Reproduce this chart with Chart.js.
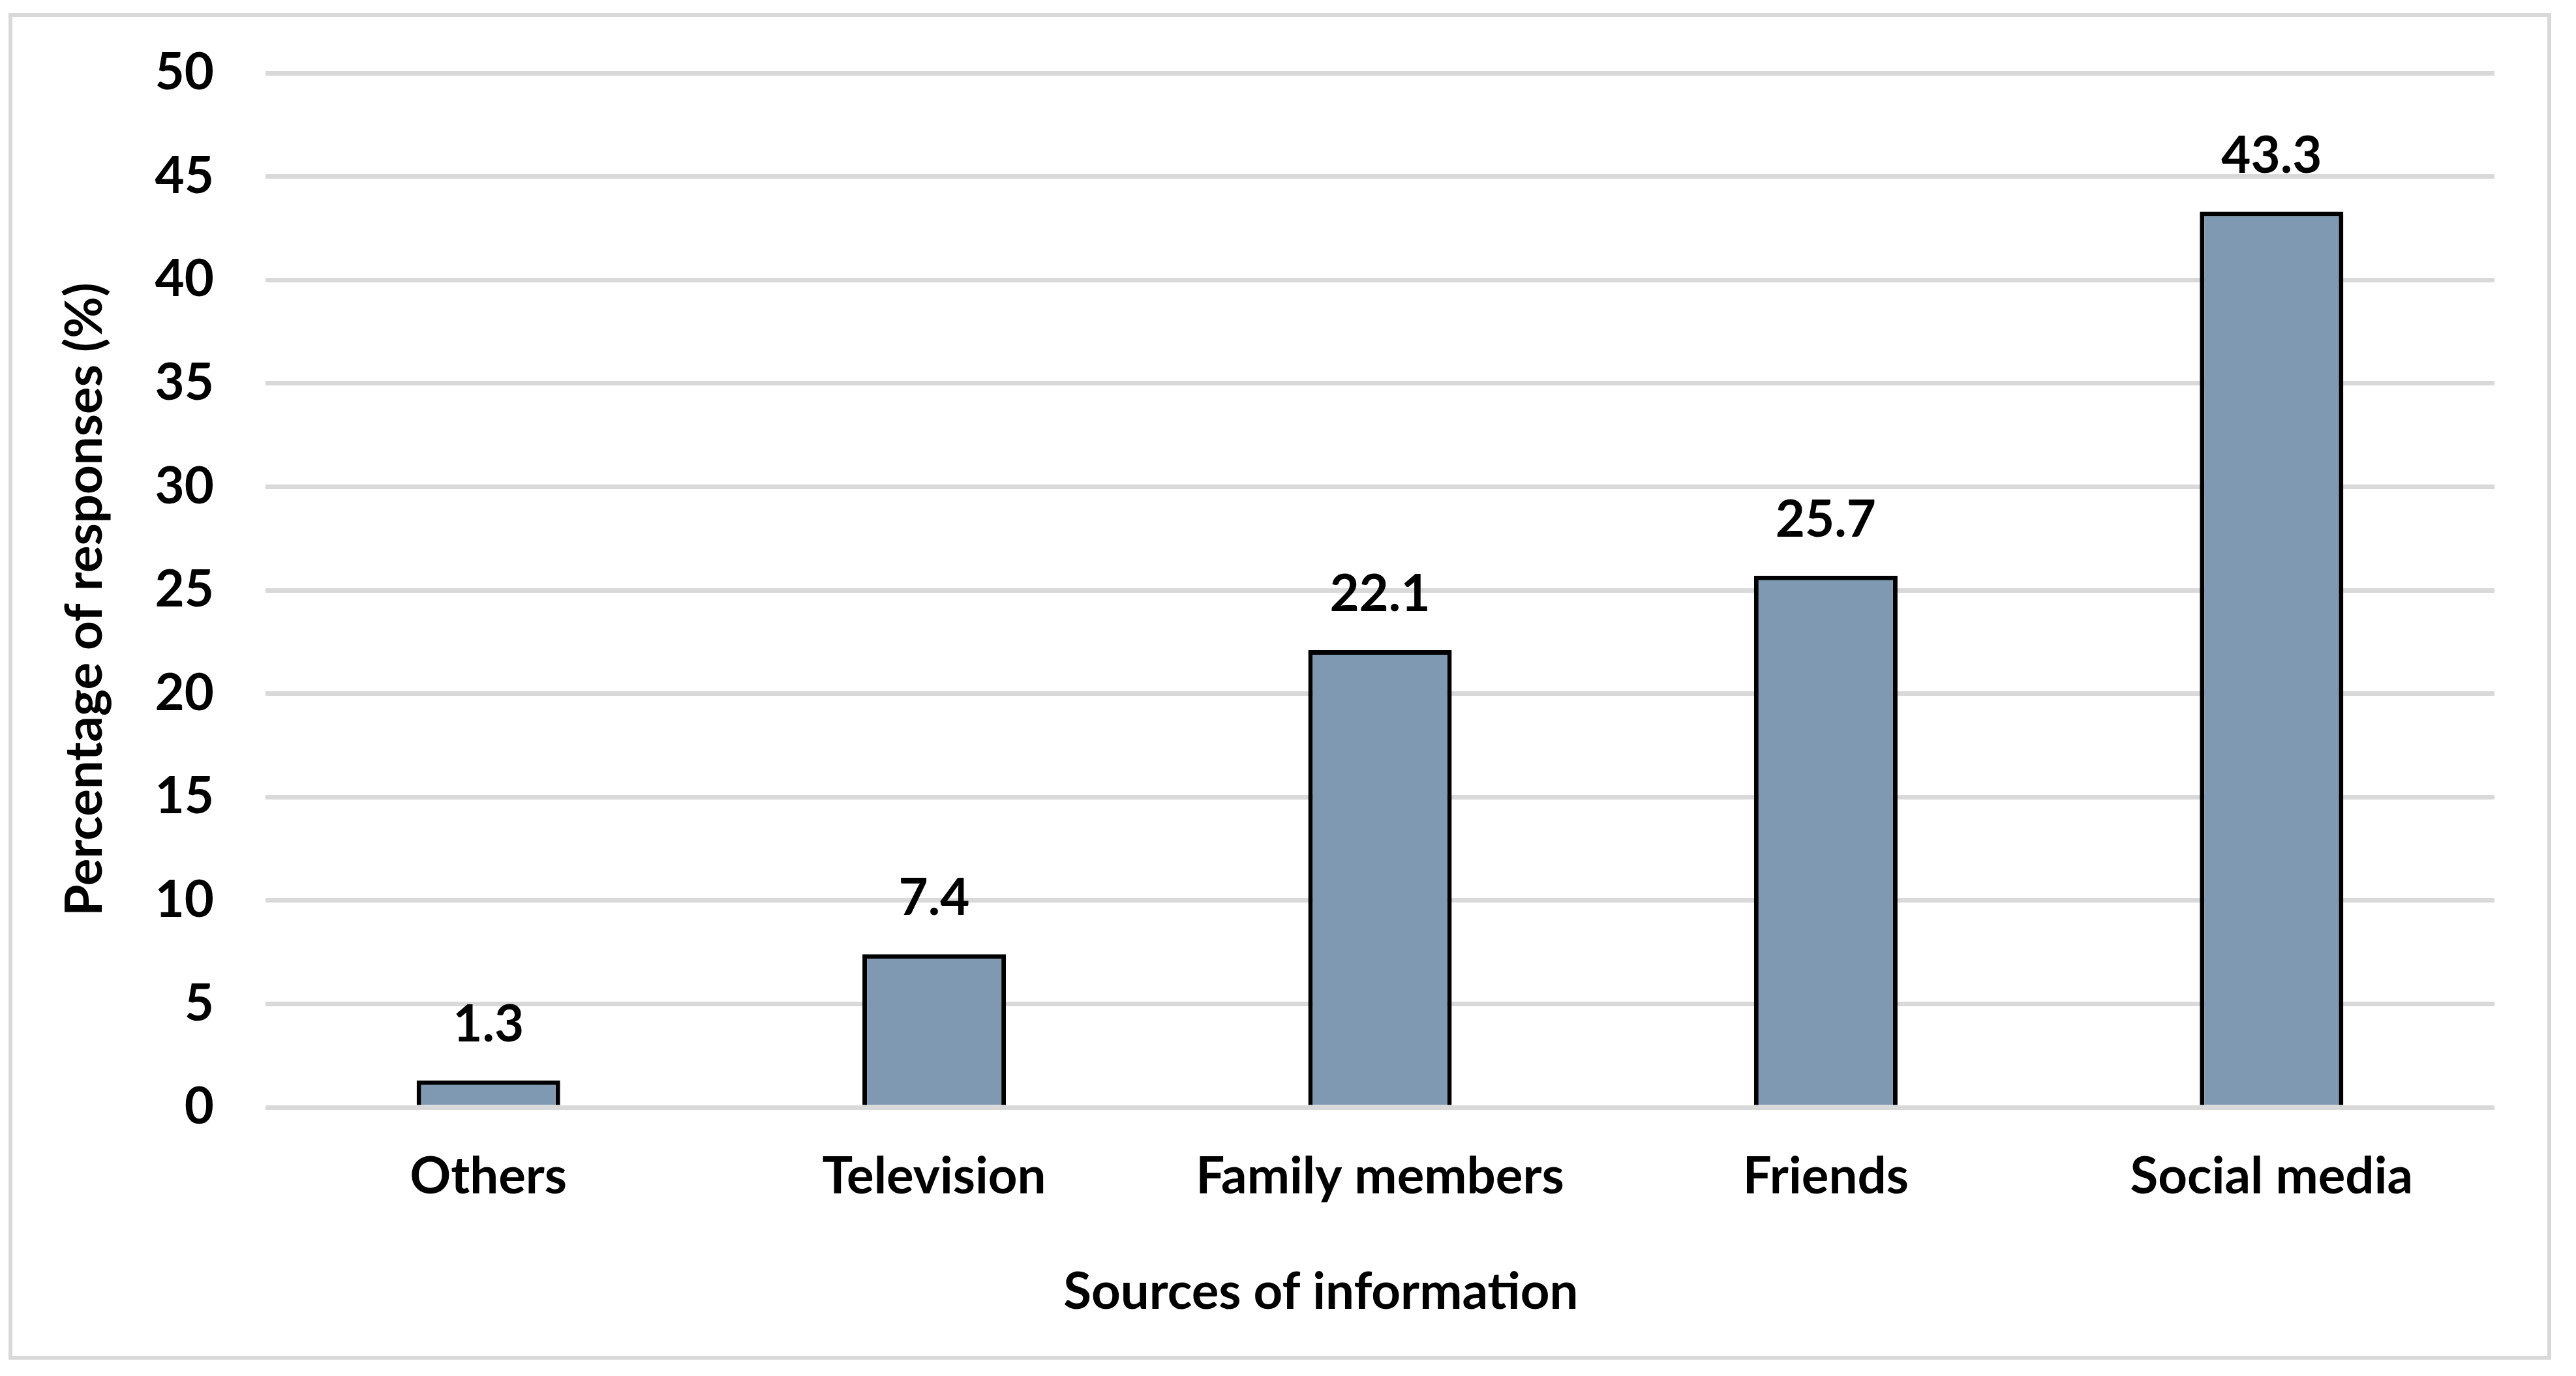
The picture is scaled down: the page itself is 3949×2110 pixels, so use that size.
<!DOCTYPE html>
<html>
<head>
<meta charset="utf-8">
<script src="https://cdn.jsdelivr.net/npm/chart.js@4.4.1/dist/chart.umd.min.js"></script>
<style>
    html, body { margin: 0; padding: 0; background: #ffffff; }
    #wrap { position: relative; width: 3949px; height: 2110px; }
    #frame {
        position: absolute; left: 13px; top: 20px; width: 3898px; height: 2065px;
        box-sizing: border-box; border: 6px solid #d9d9d9; pointer-events: none;
    }
    canvas { position: absolute; left: 0; top: 0; }
</style>
</head>
<body>
<div id="wrap">
    <canvas id="sourcesChart" width="3949" height="2110"></canvas>
    <div id="frame"></div>
</div>
<script>
// Chart data
const categories = ['Others', 'Television', 'Family members', 'Friends', 'Social media'];
const responses = [1.3, 7.4, 22.1, 25.7, 43.3];
const yTicks = [0, 5, 10, 15, 20, 25, 30, 35, 40, 45, 50];

const xTitle = 'Sources of information';
const yTitle = 'Percentage of responses (%)';

const FONT = 'Lato, "Open Sans", sans-serif';
const FONT_SIZE = 78;

// labels above the bars
const valueLabels = {
    id: 'valueLabels',
    afterDatasetsDraw(chart) {
        const ctx = chart.ctx;
        const meta = chart.getDatasetMeta(0);
        ctx.save();
        ctx.font = `bold ${FONT_SIZE}px ${FONT}`;
        ctx.fillStyle = '#000000';
        ctx.textAlign = 'center';
        ctx.textBaseline = 'middle';
        meta.data.forEach((bar, i) => {
            ctx.fillText(responses[i].toFixed(1), bar.x, bar.y - 85);
        });
        ctx.restore();
    }
};

// axis titles, placed like the original
const axisTitles = {
    id: 'axisTitles',
    afterDraw(chart) {
        const ctx = chart.ctx;
        const area = chart.chartArea;
        ctx.save();
        ctx.font = `bold ${FONT_SIZE}px ${FONT}`;
        ctx.fillStyle = '#000000';
        ctx.textAlign = 'center';
        ctx.textBaseline = 'middle';
        ctx.fillText(xTitle, area.left + area.width * 0.4735, 1982);
        ctx.translate(131, (area.top + area.bottom) / 2 + 14);
        ctx.rotate(-Math.PI / 2);
        ctx.fillText(yTitle, 0, 0);
        ctx.restore();
    }
};

const ctx = document.getElementById('sourcesChart');
new Chart(ctx, {
    type: 'bar',
    data: {
        labels: categories,
        datasets: [{
            data: responses,
            backgroundColor: '#7f99b2',
            borderColor: '#000000',
            borderWidth: 7,
            barPercentage: 0.322,
            categoryPercentage: 1
        }]
    },
    options: {
        responsive: false,
        animation: false,
        devicePixelRatio: 1,
        layout: { padding: { top: 112, right: 125, left: 0, bottom: 0 } },
        plugins: {
            legend: { display: false },
            tooltip: { enabled: false }
        },
        scales: {
            x: {
                grid: { display: false, drawTicks: false },
                border: { display: false },
                ticks: {
                    color: '#000000',
                    padding: 60,
                    font: { family: FONT, size: FONT_SIZE, weight: 'bold' }
                },
                afterFit(scale) { scale.height = 412; }
            },
            y: {
                min: 0,
                max: 50,
                afterBuildTicks(scale) { scale.ticks = yTicks.map(v => ({ value: v })); },
                grid: { color: '#d9d9d9', lineWidth: 7, drawTicks: false },
                border: { display: false },
                ticks: {
                    color: '#000000',
                    padding: 79,
                    // small lineHeight keeps the label padding from pushing the plot down
                    font: { family: FONT, size: FONT_SIZE, weight: 'bold', lineHeight: 0.8 }
                },
                afterFit(scale) { scale.width = 407; }
            }
        }
    },
    plugins: [valueLabels, axisTitles]
});
</script>
</body>
</html>
